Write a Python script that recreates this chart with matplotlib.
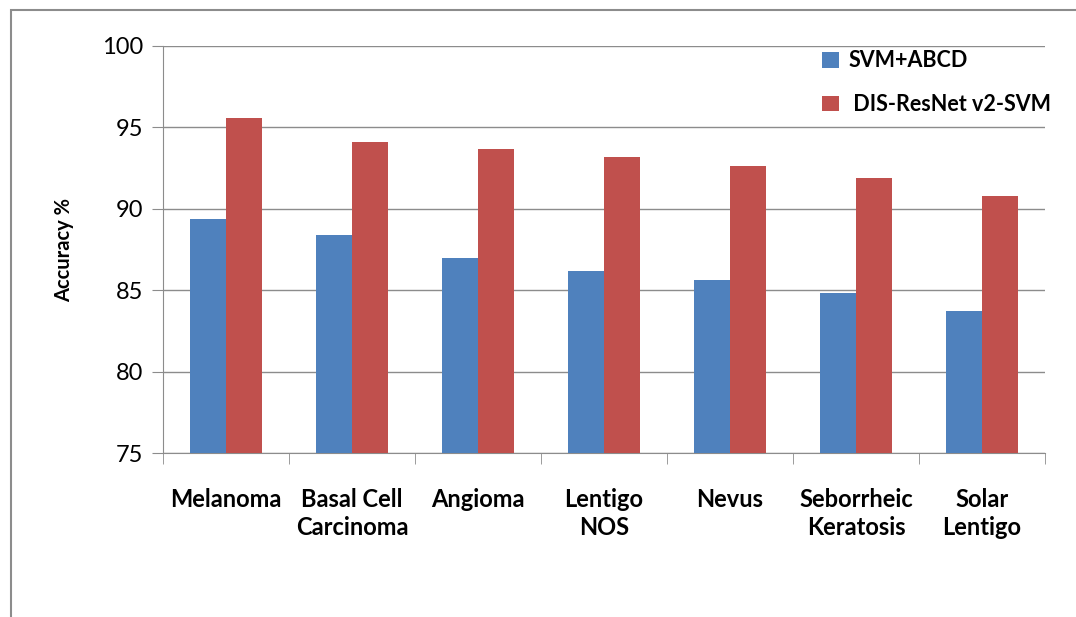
import matplotlib
matplotlib.use("Agg")
import matplotlib.pyplot as plt
import numpy as np
from matplotlib.patches import Rectangle

categories = ["Melanoma", "Basal Cell\nCarcinoma", "Angioma", "Lentigo\nNOS", "Nevus",
              "Seborrheic\nKeratosis", "Solar\nLentigo"]
svm_abcd = [89.4, 88.4, 87.0, 86.2, 85.6, 84.8, 83.7]
dis_resnet = [95.6, 94.1, 93.7, 93.2, 92.6, 91.9, 90.8]
series_names = ["SVM+ABCD", " DIS-ResNet v2-SVM"]
yticks = [75, 80, 85, 90, 95, 100]

plt.rcParams['font.family'] = ['Lato', 'DejaVu Sans']

W, H = 1076, 617
fig = plt.figure(figsize=(W/100, H/100), dpi=100)
fig.patch.set_facecolor('white')

# outer frame
fig.patches.append(Rectangle((11/W, -0.1), 1.2, 1.1 - 10/H, transform=fig.transFigure,
                             fill=False, edgecolor='#8c8c8c', linewidth=1.5, zorder=0))

ax = fig.add_axes([163/W, 1-453/H, (1045-163)/W, (453-46)/H])
x = np.arange(len(categories))
bw = 0.286
ax.bar(x - bw/2, [v - 75 for v in svm_abcd], bw, bottom=75, color='#4F81BD', label=series_names[0], zorder=3)
ax.bar(x + bw/2, [v - 75 for v in dis_resnet], bw, bottom=75, color='#C0504D', label=series_names[1], zorder=3)

ax.set_xlim(-0.5, len(categories) - 0.5)
ax.set_ylim(75, 100)
ax.set_yticks(yticks)
ax.set_yticklabels([str(t) for t in yticks], fontsize=17)
ax.yaxis.grid(True, color='#8c8c8c', linewidth=1)
ax.set_axisbelow(True)
for s in ['top', 'right']:
    ax.spines[s].set_visible(False)
ax.spines['left'].set_color('#8c8c8c')
ax.spines['bottom'].set_color('#8c8c8c')
ax.tick_params(axis='y', length=8, color='#8c8c8c', pad=6)

ax.set_xticks(x)
ax.set_xticklabels(categories, fontsize=17, fontweight='bold', linespacing=1.3)
ax.tick_params(axis='x', length=0, pad=25)
ax.set_xticks(np.arange(len(categories) + 1) - 0.5, minor=True)
ax.tick_params(axis='x', which='minor', length=8, color='#8c8c8c')

ax.set_ylabel("Accuracy %", fontsize=14.5, fontweight='bold', labelpad=20)

leg = ax.legend(loc='upper left', bbox_to_anchor=((803 - 163) / (1045 - 163), 1.0 + 15/407),
                frameon=False, prop={'weight': 'bold', 'size': 15.5}, handlelength=0.75,
                handleheight=0.75, labelspacing=1.05, handletextpad=0.45)

fig.savefig("out.png", dpi=100, facecolor='white')
